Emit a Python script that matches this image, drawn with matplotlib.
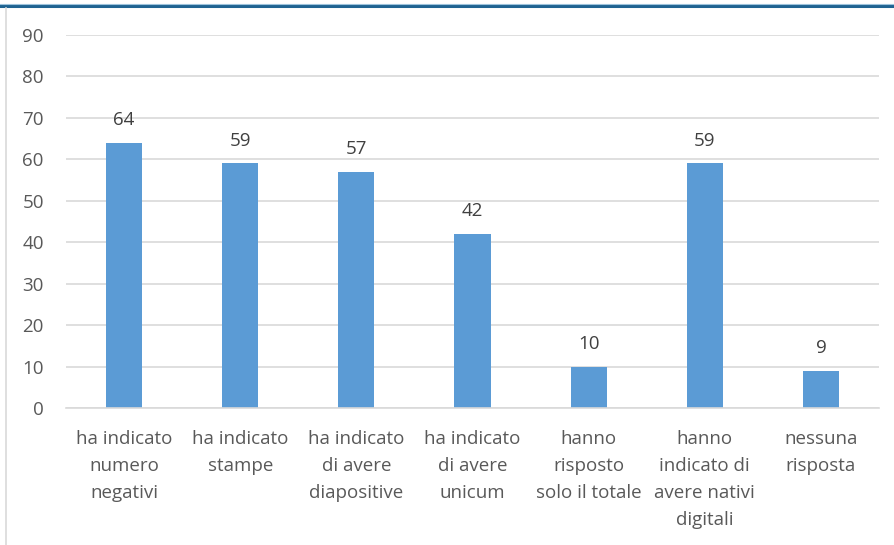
import matplotlib
matplotlib.use("Agg")
import matplotlib.pyplot as plt
from matplotlib.lines import Line2D

categories = ["ha indicato\nnumero\nnegativi", "ha indicato\nstampe", "ha indicato\ndi avere\ndiapositive",
              "ha indicato\ndi avere\nunicum", "hanno\nrisposto\nsolo il totale",
              "hanno\nindicato di\navere nativi\ndigitali", "nessuna\nrisposta"]
values = [64, 59, 57, 42, 10, 59, 9]
yticks = [0, 10, 20, 30, 40, 50, 60, 70, 80, 90]

plt.rcParams['font.family'] = ['Open Sans', 'DejaVu Sans']
fig = plt.figure(figsize=(8.95, 5.45), dpi=100)
ax = fig.add_axes([66/895, 1-408/545, (879-66)/895, (408-35)/545])

x = list(range(len(categories)))
bars = ax.bar(x, values, width=0.31, color="#5B9BD5", zorder=3)
for xi, v in zip(x, values):
    ax.annotate(str(v), (xi, v), xytext=(0, 10), textcoords="offset points",
                ha="center", va="bottom", fontsize=13.5, color="#404040")

ax.set_xlim(-0.5, len(categories)-0.5)
ax.set_ylim(0, 90)
ax.set_yticks(yticks)
ax.set_xticks(x)
ax.set_xticklabels(categories, fontsize=13.5, color="#595959", linespacing=1.66, va="top")
ax.tick_params(axis="y", labelsize=13.5, labelcolor="#595959", length=0, pad=16)
ax.tick_params(axis="x", length=0, pad=15.5)
ax.grid(axis="y", color="#D9D9D9", linewidth=1.2, zorder=0)
for s in ["top", "right", "left"]:
    ax.spines[s].set_visible(False)
ax.spines["bottom"].set_color("#D9D9D9")
ax.spines["bottom"].set_linewidth(1.2)
ax.spines["bottom"].set_zorder(4)

# decorative frame
fig.add_artist(Line2D([0, 1], [1-5.5/545, 1-5.5/545], color="#1F6391", linewidth=2.2))
fig.add_artist(Line2D([0, 1], [1-3.5/545, 1-3.5/545], color="#9DC3DC", linewidth=0.8))
fig.add_artist(Line2D([6.5/895, 6.5/895], [0, 1-8/545], color="#D9D9D9", linewidth=1.2))

fig.savefig("out.png", dpi=100)
